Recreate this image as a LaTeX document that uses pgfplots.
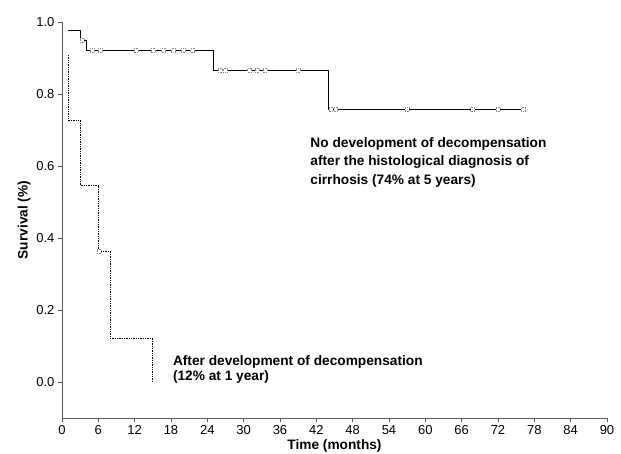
\documentclass[border=0pt]{standalone}
\usepackage{fontspec}
\setmainfont{Liberation Sans}
\usepackage{pgfplots}
\pgfplotsset{compat=1.18}
\begin{document}
\begin{tikzpicture}
\begin{axis}[
  scale only axis,
  width=545pt, height=396pt,
  xmin=0, xmax=90, ymin=-0.1, ymax=1.0,
  axis lines*=left,
  axis line style={black!65, line width=0.8pt},
  xtick={0,6,...,90},
  ytick={0,0.2,0.4,0.6,0.8,1.0},
  tick align=outside,
  major tick length=4pt,
  tick style={black!65, line width=0.6pt},
  yticklabel style={/pgf/number format/fixed, /pgf/number format/fixed zerofill, /pgf/number format/precision=1},
  /pgf/number format/assume math mode=true,
  ticklabel style={font=\fontsize{13}{15}\selectfont},
  xlabel={\textbf{Time (months)}},
  ylabel={\textbf{Survival (\%)}},
  every axis x label/.style={at={(axis description cs:0.5,0)}, anchor=north, inner sep=0pt, yshift=-21pt, font=\fontsize{13.7}{15}\selectfont},
  ylabel style={yshift=-1pt, font=\fontsize{13.7}{15}\selectfont},
  clip=false,
]
% no decompensation (solid)
\addplot[black, line width=0.75pt, mark=none] coordinates {
 (1,0.977) (3,0.977) (3,0.95) (4,0.95) (4,0.92) (25,0.92) (25,0.867) (44,0.867) (44,0.757) (76.4,0.757)
};
% after decompensation (dotted)
\addplot[black, line width=0.75pt, densely dotted, mark=none] coordinates {
 (1,0.909) (1,0.727) (3,0.727) (3,0.545) (6,0.545) (6,0.364) (8,0.364) (8,0.121) (15,0.121) (15,0.0)
};
% censoring marks
\addplot[only marks, mark=square*, mark size=2pt, mark options={fill=white, draw=black!45, densely dotted, line width=0.6pt}] coordinates {
 (3.3,0.95) (5,0.92) (6.3,0.92) (12.2,0.92) (15,0.92) (16.8,0.92) (18.4,0.92) (20,0.92) (21.6,0.92)
 (26.1,0.867) (27,0.867) (31,0.867) (32.2,0.867) (33.5,0.867) (39,0.867)
 (44.4,0.757) (45.2,0.757) (57,0.757) (67.8,0.757) (72,0.757) (76.2,0.757)
 (6.1,0.364)
};
\node[anchor=north west, align=left, inner sep=0pt, font=\bfseries\fontsize{13.7}{18.5}\selectfont] at (axis cs:41.0,0.68)
 {No development of decompensation\\after the histological diagnosis of\\cirrhosis (74\% at 5 years)};
\node[anchor=north west, align=left, inner sep=0pt, font=\bfseries\fontsize{13.7}{15}\selectfont] at (axis cs:18.3,0.075)
 {After development of decompensation\\(12\% at 1 year)};
\end{axis}
\pgfresetboundingbox
\useasboundingbox (-62pt,-35pt) rectangle (559pt,418pt);
\end{tikzpicture}
\end{document}
